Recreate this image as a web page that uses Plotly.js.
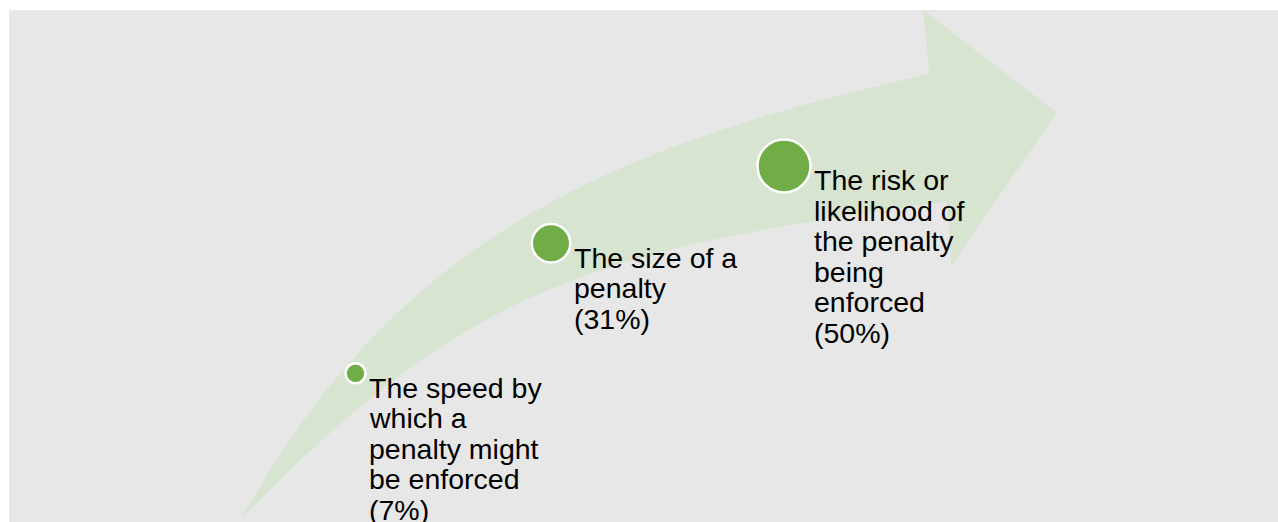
<!DOCTYPE html>
<html><head><meta charset="utf-8">
<script src="https://cdn.plot.ly/plotly-3.0.1.min.js"></script>
<style>html,body{margin:0;padding:0;background:#fff;}#chart{width:1278px;height:522px;}</style>
</head><body><div id="chart"></div>
<script>
// Factors (label text, wrapped as in the original) and their shares (%)
const factorLabels = [
  "The speed by\nwhich a\npenalty might\nbe enforced",
  "The size of a\npenalty",
  "The risk or\nlikelihood of\nthe penalty\nbeing\nenforced"
];
const shares = [7, 31, 50];
// Placement of each bubble along the arrow (diagram units)
const posX = [355.5, 551, 784];
const posY = [373.3, 243.3, 166];

// Arrow outline (diagram units): cubic Bezier edges of the curved shaft, then the head
const arrowUpper = [[241.7,518],[397.2,238.3],[607.2,146.3],[929.3,74]];
const arrowHead  = [[923.3,10],[1056.7,112.7],[951.7,265],[946.7,201.7]];
const arrowLower = [[946.7,201.7],[599.8,249.3],[471.7,281.4],[241.7,518]];

const FONT = {family:'"Liberation Sans", Arial, sans-serif', size:28.5, color:'#000000'};
const LINE = 30.5;

function p(pt){return pt[0]+','+pt[1];}
const arrowPath = 'M' + p(arrowUpper[0]) +
  ' C' + p(arrowUpper[1]) + ' ' + p(arrowUpper[2]) + ' ' + p(arrowUpper[3]) +
  arrowHead.map(q => ' L' + p(q)).join('') +
  ' C' + p(arrowLower[1]) + ' ' + p(arrowLower[2]) + ' ' + p(arrowLower[3]) + ' Z';

const sizes = shares.map(v => 14.6 + 0.767 * v);

const annotations = [];
factorLabels.forEach((lab, i) => {
  const lines = lab.split('\n').concat(['(' + shares[i] + '%)']);
  lines.forEach((ln, j) => {
    annotations.push({
      x: posX[i], y: posY[i], xref:'x', yref:'y',
      text: ln, showarrow:false, xanchor:'left', yanchor:'top',
      xshift: sizes[i]/2 + 1.5, yshift: 3.8 - j*LINE,
      font: FONT, borderpad: 1
    });
  });
});

const trace = {
  x: posX, y: posY, type:'scatter', mode:'markers',
  marker:{size:sizes, color:'#70ad47', line:{color:'#ffffff', width:2.5}, opacity:1},
  hoverinfo:'skip', cliponaxis:false
};

const layout = {
  width:1278, height:522,
  margin:{l:9, r:0, t:10, b:0, pad:0},
  paper_bgcolor:'#ffffff', plot_bgcolor:'#e7e7e7',
  xaxis:{range:[9,1278], visible:false, fixedrange:true},
  yaxis:{range:[522,10], visible:false, fixedrange:true},
  showlegend:false,
  shapes:[{type:'path', xref:'x', yref:'y', path:arrowPath, fillcolor:'#d6e4d0', line:{width:0}, layer:'below'}],
  annotations: annotations
};

Plotly.newPlot('chart', [trace], layout, {displayModeBar:false, staticPlot:true});
</script>
</body></html>
